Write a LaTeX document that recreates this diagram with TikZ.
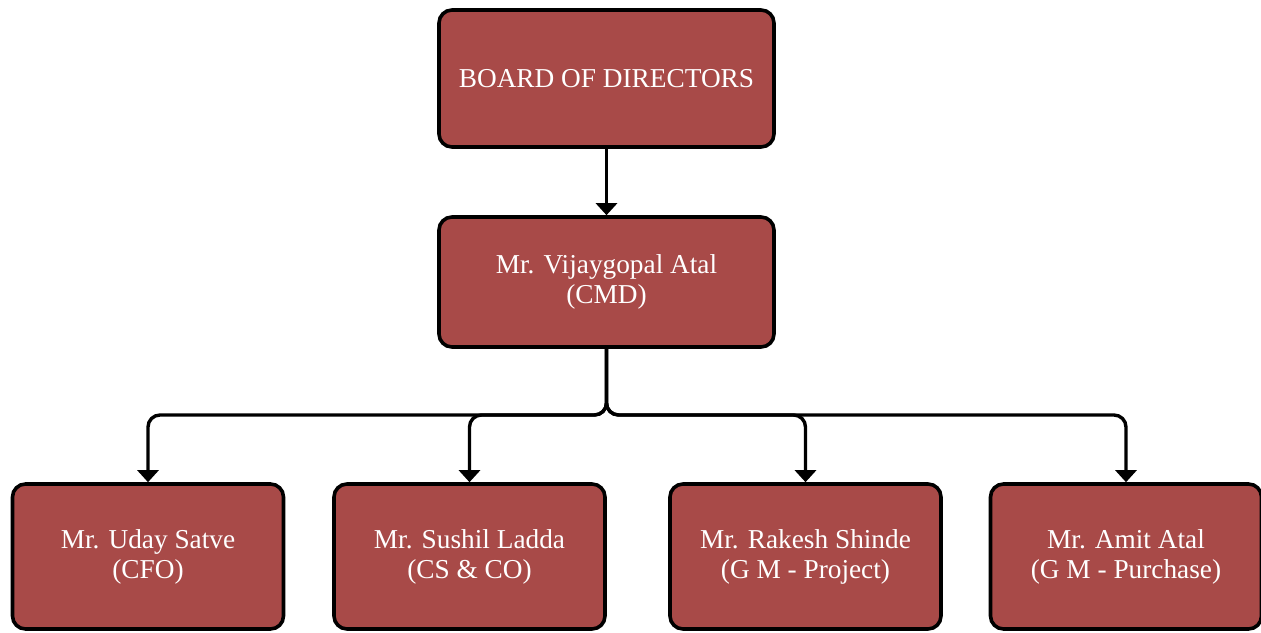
\documentclass[tikz,border=0pt]{standalone}
\usepackage{fontspec}
\setmainfont{Liberation Serif}
\usetikzlibrary{arrows.meta}
\definecolor{boxred}{RGB}{168,74,72}
\begin{document}
\begin{tikzpicture}[x=1pt,y=1pt,
  orgbox/.style={draw=black, line width=3.6pt, fill=boxred, rounded corners=13pt,
    text=white, align=center, inner sep=0pt,
    font=\fontsize{27.3}{30}\selectfont},
  topbox/.style={orgbox, minimum width=335pt},
  leafbox/.style={orgbox, minimum width=271pt, minimum height=145pt},
  conn/.style={draw=black, line width=3.4pt, rounded corners=12pt,
    -{Triangle[width=21pt,length=12pt]}}]
\useasboundingbox (0,0) rectangle (1261,-632);
\fill[white] (0,0) rectangle (1261,-632);

\node[topbox, minimum height=137pt] (board) at (606.5,-78.5) {BOARD OF DIRECTORS};
\node[topbox, minimum height=130pt] (cmd) at (606.5,-282) {Mr. Vijaygopal Atal\\(CMD)};

\node[leafbox] (cfo) at (148,-556.5) {Mr. Uday Satve\\(CFO)};
\node[leafbox] (cs) at (469.5,-556.5) {Mr. Sushil Ladda\\(CS \& CO)};
\node[leafbox] (gmp) at (805.5,-556.5) {Mr. Rakesh Shinde\\(G M - Project)};
\node[leafbox] (gmpu) at (1126,-556.5) {Mr. Amit Atal\\(G M - Purchase)};

\coordinate (bus) at (606.5,-415);

\draw[conn] (board.south) -- (cmd.north);
\foreach \c in {cfo,cs,gmp,gmpu}
  \draw[conn] (cmd.south) -- (bus) -| (\c.north);
\end{tikzpicture}
\end{document}
